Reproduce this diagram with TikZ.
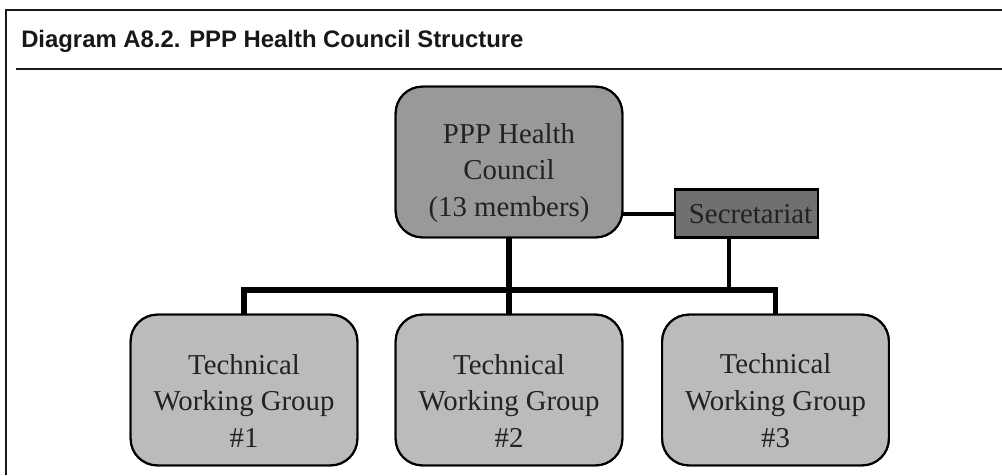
\documentclass[tikz,border=0pt]{standalone}
\usepackage{fontspec}
\setmainfont{Liberation Serif}
\newfontfamily\titlefont{Liberation Sans}
\usetikzlibrary{calc}
\definecolor{councilfill}{RGB}{153,153,153}
\definecolor{groupfill}{RGB}{187,187,187}
\definecolor{secfill}{RGB}{112,112,112}
\definecolor{inktext}{RGB}{34,34,34}
\definecolor{framecol}{RGB}{24,24,24}
\tikzset{
  roundbox/.style={draw=black, line width=1.6pt, rounded corners=20pt, inner sep=0pt},
  councilbox/.style={roundbox, fill=councilfill, minimum width=170pt, minimum height=113pt},
  groupbox/.style={roundbox, fill=groupfill, minimum width=170pt, minimum height=113pt},
  secbox/.style={draw=black, line width=1.6pt, fill=secfill, minimum width=107pt, minimum height=36pt, inner sep=0pt},
  boxtext/.style={align=center, text=inktext, inner sep=0pt, font=\fontsize{21.6}{27.4}\selectfont},
  titletext/.style={anchor=base west, inner sep=0pt, text=framecol, font=\titlefont\bfseries\fontsize{17.9}{20}\selectfont},
  heavy/.style={line width=4.4pt, line join=miter},
  light/.style={line width=3pt},
  framerule/.style={line width=1.6pt, draw=framecol}
}
\begin{document}
\begin{tikzpicture}[x=0.75pt,y=-0.75pt]
\useasboundingbox (0,0) rectangle (1002,475);
% frame
\draw[framerule] (6,475) -- (6,10) -- (1002,10);
\draw[framerule] (16,69) -- (1002,69);
\node[titletext] (title) at (21,47.5) {Diagram A8.2. PPP Health Council Structure};
% bus coordinate
\coordinate (bus) at (509,290);
% box shapes (positions)
\path (509,162) node[councilbox] (council) {};
\path (746.5,213.5) node[secbox] (sec) {};
\path (244,390) node[groupbox] (g1) {};
\path (509,390) node[groupbox] (g2) {};
\path (775.5,390) node[groupbox] (g3) {};
% connectors
\draw[light] (sec.west) -- (sec.west -| council.east);
\draw[light] ([xshift=-13pt]sec.south) -- ([xshift=-13pt]sec.south |- bus);
\draw[heavy] (council.south) -- (g2.north);
\draw[heavy] (g1.north) -- (g1.north |- bus) -- (g3.north |- bus) -- (g3.north);
% redraw boxes on top
\path (509,162) node[councilbox] (councilT) {};
\path (746.5,213.5) node[secbox] (secT) {};
\path (244,390) node[groupbox] (g1T) {};
\path (509,390) node[groupbox] (g2T) {};
\path (775.5,390) node[groupbox] (g3T) {};
% texts
\node[boxtext] (councilText) at ([yshift=-8pt]council.center) {PPP Health\\Council\\(13 members)};
\node[boxtext, anchor=base] (secText) at ([xshift=3pt,yshift=-7.5pt]sec.center) {Secretariat};
\node[boxtext] (g1Text) at ([yshift=-8pt]g1.center) {Technical\\Working Group\\\#1};
\node[boxtext] (g2Text) at ([yshift=-8pt]g2.center) {Technical\\Working Group\\\#2};
\node[boxtext] (g3Text) at ([yshift=-8pt]g3.center) {Technical\\Working Group\\\#3};
\end{tikzpicture}
\end{document}
